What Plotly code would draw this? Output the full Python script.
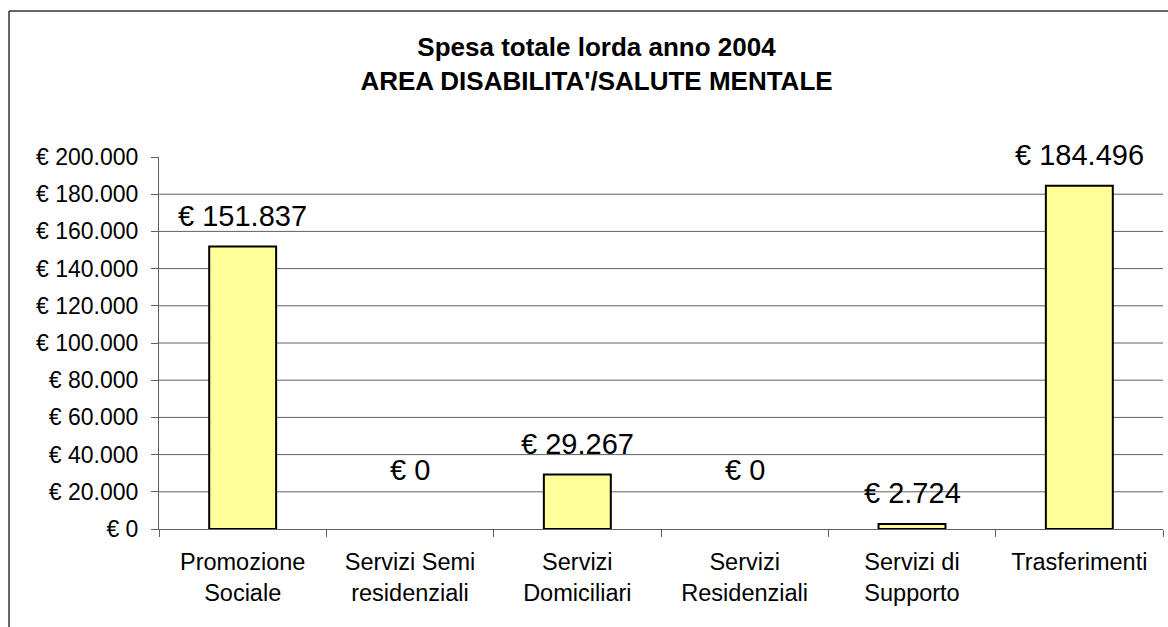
import plotly.graph_objects as go

categories = ["Promozione<br>Sociale", "Servizi Semi<br>residenziali", "Servizi<br>Domiciliari",
              "Servizi<br>Residenziali", "Servizi di<br>Supporto", "Trasferimenti"]
values = [151837, 0, 29267, 0, 2724, 184496]
y_ticks = [0, 20000, 40000, 60000, 80000, 100000, 120000, 140000, 160000, 180000, 200000]
title_lines = ["Spesa totale lorda anno 2004", "AREA DISABILITA'/SALUTE MENTALE"]

FONT = "Liberation Sans, Arial, sans-serif"
W, H = 1168, 627
L, R, T, B = 159, 5, 157, 98
PW, PH = W - L - R, H - T - B


def euro(v):
    return "€ " + f"{v:,}".replace(",", ".")


fig = go.Figure()
fig.add_trace(go.Bar(
    x=categories, y=values, width=0.4,
    marker=dict(color="#FFFF99",
                line=dict(color="#000000", width=[2 if v > 0 else 0 for v in values])),
    hoverinfo="skip", showlegend=False,
))

# data labels
for c, v in zip(categories, values):
    fig.add_annotation(x=c, y=v, xref="x", yref="y", text=euro(v),
                       showarrow=False, yanchor="middle", yshift=(59 if v == 0 else 31),
                       font=dict(family=FONT, size=29, color="#000"))

# gridlines (except top edge)
for t in y_ticks[1:-1]:
    fig.add_shape(type="line", xref="paper", yref="y", x0=0, x1=1, y0=t, y1=t,
                  line=dict(color="#606060", width=1), layer="below")

# outer chart border (left & top visible)
bx = (9 - L) / PW
by = (H - B - 11) / PH
fig.add_shape(type="line", xref="paper", yref="paper", x0=bx, x1=bx, y0=-0.5, y1=by,
              line=dict(color="#333333", width=1.5))
fig.add_shape(type="line", xref="paper", yref="paper", x0=bx, x1=1.1, y0=by, y1=by,
              line=dict(color="#333333", width=1.5))

fig.update_layout(
    width=W, height=H,
    margin=dict(l=L, r=R, t=T, b=B),
    paper_bgcolor="white", plot_bgcolor="white",
    separators=",.",
    title=dict(text="<b>" + title_lines[0] + "<br>" + title_lines[1] + "</b>",
               x=596.5 / W, xref="container", xanchor="center",
               y=1 - 56 / H, yref="container", yanchor="middle",
               font=dict(family=FONT, size=26, color="#000")),
    font=dict(family=FONT, color="#000"),
)
fig.update_xaxes(showline=True, linecolor="#606060", linewidth=1,
                 ticks="outside", ticklen=7, tickcolor="#606060", tickson="boundaries",
                 showgrid=False, tickfont=dict(family=FONT, size=23.5, color="#000"),
                 ticklabelstandoff=12)
fig.update_yaxes(range=[0, 200000], tickvals=y_ticks,
                 ticktext=[euro(t) for t in y_ticks],
                 showline=True, linecolor="#606060", linewidth=1,
                 ticks="outside", ticklen=7, tickcolor="#606060",
                 showgrid=False, zeroline=False,
                 tickfont=dict(family=FONT, size=23, color="#000"),
                 ticklabelstandoff=8)

fig.write_html("out.html", config={"displayModeBar": False},
               post_script="document.body.style.margin='0';")
